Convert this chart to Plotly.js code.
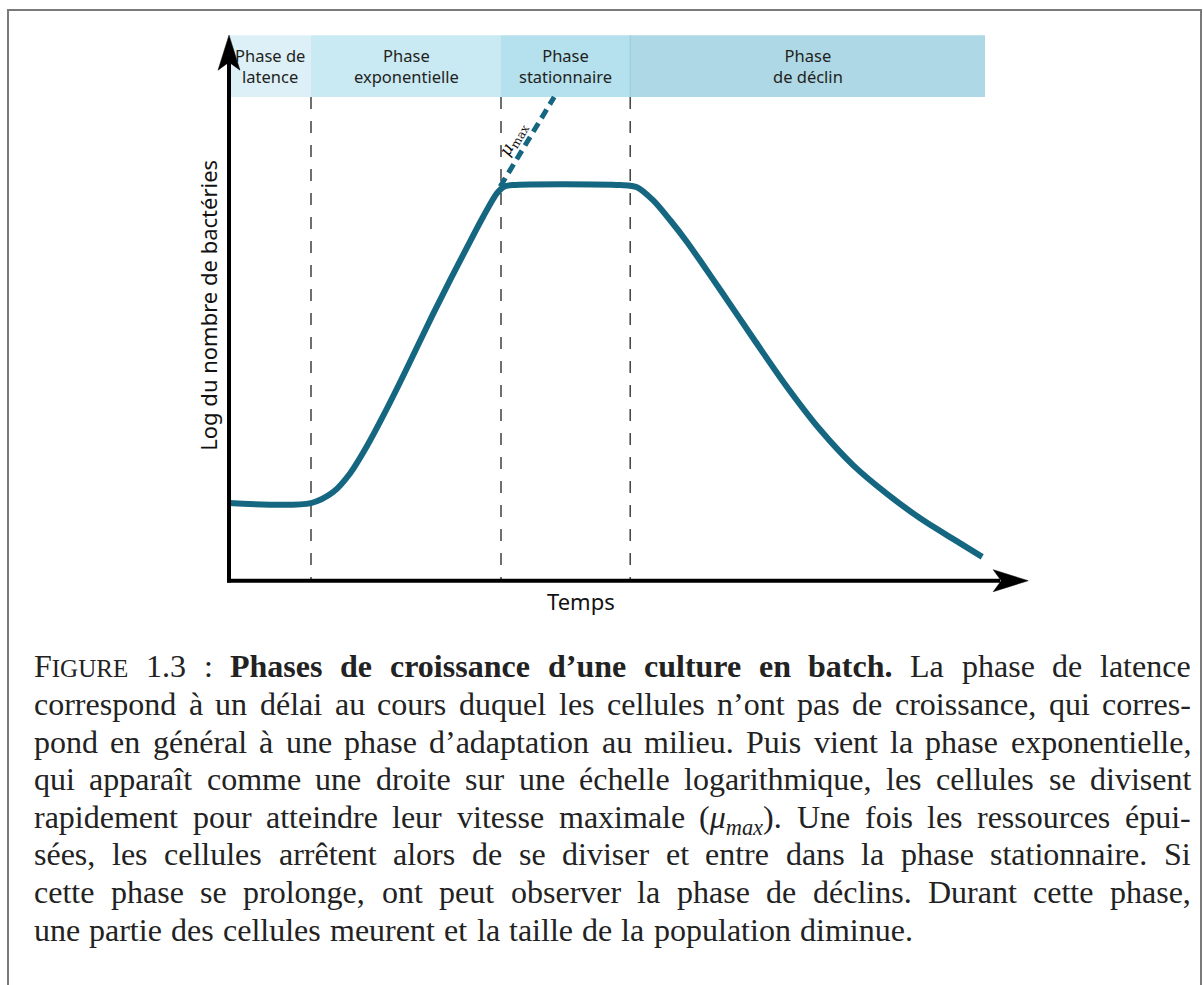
<!DOCTYPE html>
<html><head><meta charset="utf-8">
<script src="https://cdn.plot.ly/plotly-3.0.1.min.js"></script>
<style>html,body{margin:0;padding:0;background:#fff;} #chart{width:1203px;height:985px;}</style>
</head><body><div id="chart"></div>
<script>
// ---- data ----
const timeX = [0, 2.05, 2.60, 3.03, 3.45, 3.85, 4.28, 4.70, 5.10, 5.53, 5.95, 6.35, 6.70, 6.88, 7.10,
               9.78, 10.20, 10.60, 11.03, 11.45, 11.85, 12.28, 13.10, 13.95, 14.78, 15.60, 16.45, 17.28, 18.10, 18.83];
const logN  = [1.43, 1.43, 1.63, 1.98, 2.48, 3.03, 3.66, 4.30, 4.91, 5.54, 6.14, 6.70, 7.14, 7.26, 7.29,
               7.29, 7.25, 7.01, 6.64, 6.24, 5.82, 5.36, 4.47, 3.57, 2.78, 2.13, 1.60, 1.15, 0.77, 0.44];
const muMaxX = [6.78, 8.13];
const muMaxY = [7.26, 8.91];
const phaseNames = ["Phase de<br>latence", "Phase<br>exponentielle", "Phase<br>stationnaire", "Phase<br>de déclin"];
const phaseBounds = [0, 2.05, 6.80, 10.03, 18.90];
const phaseBand = [8.91, 10.05];
const axisTop = 10.05;
const axisRight = 19.98;
const xTitle = "Temps";
const yTitle = "Log du nombre de bactéries";
const muLabel = "<i>μ</i><sub>max</sub>";
const captionLines = [
  "F<span style=\"font-size:25px\">IGURE</span> 1.3 : <b>Phases de croissance d’une culture en batch.</b> La phase de latence",
  "correspond à un délai au cours duquel les cellules n’ont pas de croissance, qui corres-",
  "pond en général à une phase d’adaptation au milieu. Puis vient la phase exponentielle,",
  "qui apparaît comme une droite sur une échelle logarithmique, les cellules se divisent",
  "rapidement pour atteindre leur vitesse maximale (<i>μ</i><sub><i>max</i></sub>). Une fois les ressources épui-",
  "sées, les cellules arrêtent alors de se diviser et entre dans la phase stationnaire. Si",
  "cette phase se prolonge, ont peut observer la phase de déclins. Durant cette phase,",
  "une partie des cellules meurent et la taille de la population diminue."
];

// ---- styles ----
const curveColor = '#156680';
const bandColors = ['#ddf0f7', '#c9e9f3', '#b5e1ee', '#aed8e5'];
const sansFont = 'Noto Sans';
const capFont = 'Liberation Serif';
const capSize = 32;

// layout geometry (pixel helpers for paper-referenced items)
const M = {l: 189, r: 134, t: 27, b: 350};
const W = 1203, H = 985;
const PW = W - M.l - M.r, PH = H - M.t - M.b;
const px2paperX = p => (p - M.l) / PW;
const px2paperY = p => (H - M.b - p) / PH;

const traces = [
  {x: timeX, y: logN, type: 'scatter', mode: 'lines', hoverinfo: 'skip',
   line: {color: curveColor, width: 6, shape: 'spline', smoothing: 0.8}},
  {x: muMaxX, y: muMaxY, type: 'scatter', mode: 'lines', hoverinfo: 'skip',
   line: {color: curveColor, width: 5, dash: '10px,6px'}}
];

const shapes = [];
// frame
shapes.push({type: 'rect', xref: 'paper', yref: 'paper', x0: px2paperX(8), x1: px2paperX(1201),
  y0: px2paperY(1000), y1: px2paperY(10), line: {color: '#7a7a7a', width: 2}, layer: 'below'});
// phase bands
for (let i = 0; i < phaseNames.length; i++) {
  shapes.push({type: 'rect', xref: 'x', yref: 'y', x0: phaseBounds[i], x1: phaseBounds[i + 1],
    y0: phaseBand[0], y1: phaseBand[1], fillcolor: bandColors[i], line: {width: 0}, layer: 'below'});
}
shapes.push({type: 'line', xref: 'x', yref: 'y', x0: phaseBounds[3], x1: phaseBounds[3],
  y0: phaseBand[0], y1: phaseBand[1], line: {color: '#8ccbdc', width: 1}, layer: 'below'});
// dashed phase separators
for (let i = 1; i < phaseBounds.length - 1; i++) {
  shapes.push({type: 'line', xref: 'x', yref: 'y', x0: phaseBounds[i], x1: phaseBounds[i],
    y0: phaseBand[0], y1: 0, line: {color: '#333', width: 1.4, dash: '12px,12px'}, layer: 'below'});
}
// axes shafts
shapes.push({type: 'line', xref: 'x', yref: 'y', x0: 0, x1: 0, y0: -0.035, y1: axisTop - 0.5,
  line: {color: '#000', width: 4}});
shapes.push({type: 'line', xref: 'x', yref: 'y', x0: -0.05, x1: axisRight - 0.7, y0: 0, y1: 0,
  line: {color: '#000', width: 4}});
// arrowheads (pixel sized)
shapes.push({type: 'path', xref: 'x', yref: 'y', xsizemode: 'pixel', ysizemode: 'pixel',
  xanchor: 0, yanchor: axisTop, path: 'M0,0 L-11,-35 L0,-27 L11,-35 Z',
  fillcolor: '#000', line: {color: '#000', width: 0.5}});
shapes.push({type: 'path', xref: 'x', yref: 'y', xsizemode: 'pixel', ysizemode: 'pixel',
  xanchor: axisRight, yanchor: 0, path: 'M0,0 L-35,11 L-27,0 L-35,-11 Z',
  fillcolor: '#000', line: {color: '#000', width: 0.5}});

const annotations = [];
for (let i = 0; i < phaseNames.length; i++) {
  annotations.push({xref: 'x', yref: 'y', x: (phaseBounds[i] + phaseBounds[i + 1]) / 2,
    y: (phaseBand[0] + phaseBand[1]) / 2, text: phaseNames[i], showarrow: false,
    font: {family: sansFont, size: 16.5, color: '#231f20'}, align: 'center'});
}
annotations.push({xref: 'x', yref: 'y', x: -0.53, y: 5.08, text: yTitle, textangle: -90, showarrow: false,
  font: {family: sansFont, size: 22, color: '#111'}});
annotations.push({xref: 'x', yref: 'y', x: 8.8, y: -0.38, text: xTitle, showarrow: false,
  font: {family: sansFont, size: 22, color: '#111'}});
annotations.push({xref: 'x', yref: 'y', x: 7.12, y: 8.12, text: muLabel, textangle: -60, showarrow: false,
  font: {family: 'DejaVu Serif', size: 17, color: '#111'}});

// ---- caption, justified word by word ----
const ctx = document.createElement('canvas').getContext('2d');
function measureHtml(html, base, family) {
  const parts = html.split(/(<[^>]+>)/).filter(s => s.length);
  let bold = false, ital = false, sizes = [base], w = 0;
  for (const p of parts) {
    if (p[0] === '<') {
      const t = p.toLowerCase();
      if (t === '<b>') bold = true; else if (t === '</b>') bold = false;
      else if (t === '<i>') ital = true; else if (t === '</i>') ital = false;
      else if (t === '<sub>') sizes.push(sizes[sizes.length - 1] * 0.7);
      else if (t.startsWith('<span')) { const m = t.match(/font-size:\s*([\d.]+)px/); sizes.push(m ? +m[1] : sizes[sizes.length - 1]); }
      else if (t === '</sub>' || t === '</span>') sizes.pop();
      continue;
    }
    ctx.font = (ital ? 'italic ' : '') + (bold ? 'bold ' : '') + sizes[sizes.length - 1] + 'px "' + family + '"';
    w += ctx.measureText(p).width;
  }
  return w;
}
const capLeft = 33, capRight = 1190, capBase0 = 676, capLead = 37.6;
ctx.font = capSize + 'px "' + capFont + '"';
const spaceW = ctx.measureText(' ').width;
captionLines.forEach((line, li) => {
  const raw = line.split(/ (?![^<]*>)/);
  let boldOpen = false;
  const words = raw.map(wd => {
    let html = (boldOpen ? '<b>' : '') + wd;
    const opens = (wd.match(/<b>/g) || []).length, closes = (wd.match(/<\/b>/g) || []).length;
    if (opens > closes) boldOpen = true; else if (closes > opens) boldOpen = false;
    if (boldOpen) html += '</b>';
    return {html, w: measureHtml(html, capSize, capFont)};
  });
  const sum = words.reduce((a, b) => a + b.w, 0);
  const last = li === captionLines.length - 1;
  const gap = last ? spaceW * 1.15 : Math.max(spaceW * 0.6, (capRight - capLeft - sum) / (words.length - 1));
  let x = capLeft;
  const top = capBase0 + capLead * li - 0.891 * capSize;
  words.forEach(wd => {
    annotations.push({xref: 'paper', yref: 'paper', x: px2paperX(x), y: px2paperY(top),
      xanchor: 'left', yanchor: 'top', text: wd.html, showarrow: false, borderpad: 0,
      font: {family: capFont, size: capSize, color: '#222'}});
    x += wd.w + gap;
  });
});

const layout = {
  width: W, height: H, margin: M, showlegend: false,
  paper_bgcolor: '#fff', plot_bgcolor: '#fff',
  xaxis: {range: [-1, 21], visible: false, fixedrange: true},
  yaxis: {range: [-1, 10.2], visible: false, fixedrange: true},
  shapes, annotations
};
Plotly.newPlot('chart', traces, layout, {staticPlot: true, displayModeBar: false});
</script></body></html>
